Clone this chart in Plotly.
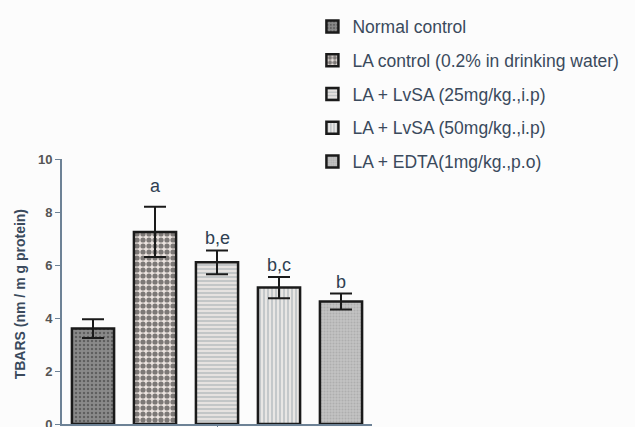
import plotly.graph_objects as go

groups = ["Normal control", "LA control (0.2% in drinking water)", "LA + LvSA (25mg/kg.,i.p)",
          "LA + LvSA (50mg/kg.,i.p)", "LA + EDTA(1mg/kg.,p.o)"]
means = [3.6, 7.25, 6.1, 5.15, 4.62]
sems = [0.35, 0.95, 0.45, 0.4, 0.3]
letters = ["", "a", "b,e", "b,c", "b"]
yticks = [0, 2, 4, 6, 8, 10]
ytitle = "TBARS (nm / m g protein)"

patterns = [
    dict(shape=".", fgcolor="#333333", bgcolor="#8a8a8a", size=4, solidity=0.3),
    dict(shape=".", fgcolor="#0e0e0e", bgcolor="#ebe3df", size=6, solidity=0.6),
    dict(shape="-", fgcolor="#8f9aa3", bgcolor="#e6e2e0", size=4, solidity=0.4),
    dict(shape="|", fgcolor="#8f9aa3", bgcolor="#e8e6e4", size=4, solidity=0.4),
    dict(shape=".", fgcolor="#9a9a9a", bgcolor="#c2c2c2", size=3, solidity=0.35),
]
letter_shift = {"a": 9}

fig = go.Figure()
for i, g in enumerate(groups):
    fig.add_trace(go.Bar(
        x=[i], y=[means[i]], name=g, width=0.68, legendgroup=f"g{i}",
        marker=dict(color=patterns[i]["bgcolor"], pattern=patterns[i],
                    line=dict(color="#1a1a1a", width=2.5)),
        error_y=dict(type="data", array=[sems[i]], visible=True, color="#1a1a1a",
                     thickness=2, width=11),
    ))
    if letters[i]:
        fig.add_annotation(x=i, y=means[i] + sems[i], text=letters[i], showarrow=False,
                           yanchor="bottom", yshift=letter_shift.get(letters[i], 0),
                           font=dict(family="Liberation Sans", size=18, color="#2f3f52"))

fig.add_annotation(xref="paper", yref="paper", x=-0.135, y=0.49, text=ytitle, textangle=-90,
                   showarrow=False, xanchor="center", yanchor="middle",
                   font=dict(family="Liberation Sans", size=14, color="#3a4a5c", weight="bold"))

fig.update_layout(
    width=635, height=427, barmode="overlay",
    margin=dict(l=62, r=263, t=159, b=3, autoexpand=False),
    paper_bgcolor="#fcfcfc", plot_bgcolor="#fcfcfc",
    showlegend=True,
    legend=dict(xref="container", yref="container", x=0.492, y=0.98, xanchor="left", yanchor="top",
                font=dict(family="Liberation Sans", size=17.5, color="#3a4a5c"),
                tracegroupgap=8, traceorder="grouped", bgcolor="rgba(0,0,0,0)"),
    font=dict(family="Liberation Sans"),
)
fig.update_xaxes(range=[-0.5, 4.5], showticklabels=False, showgrid=False, zeroline=False,
                 showline=True, linecolor="#6d8296", linewidth=2, tickvals=[2], ticks="outside",
                 ticklen=4, tickcolor="#6d8296", automargin=False)
fig.update_yaxes(range=[0, 10], tickvals=yticks, showgrid=False, zeroline=False,
                 showline=True, linecolor="#6d8296", linewidth=2, ticks="outside", ticklen=5,
                 tickcolor="#6d8296", automargin=False, ticklabeloverflow="allow",
                 tickfont=dict(family="Liberation Sans", size=13, color="#555555", weight="bold"))
fig.write_html("out.html")
